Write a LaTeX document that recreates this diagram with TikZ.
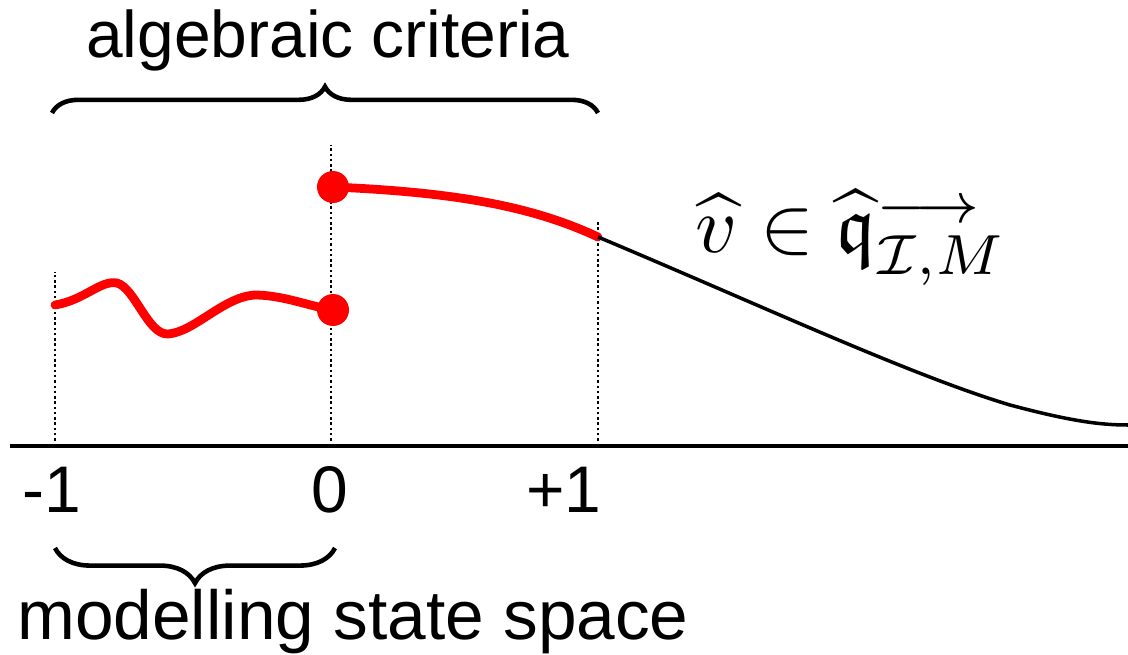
\documentclass[tikz,border=0pt]{standalone}
\usepackage{amsmath,amssymb}
\usepackage{fontspec}
\setmainfont{Liberation Sans}
\usetikzlibrary{decorations.pathreplacing,calc}

\begin{document}
\begin{tikzpicture}[x=0.02cm, y=-0.02cm,
    guide/.style={line width=1.4pt, dash pattern=on 1.4pt off 1.6pt},
    redpath/.style={red, line width=5pt, line cap=round},
    tailpath/.style={black, line width=2pt},
    dot/.style={circle, fill=red, inner sep=0pt, minimum size=0.64cm},
    lbl/.style={font=\fontsize{37.5}{42}\selectfont, inner sep=0pt},
    brace/.style={decorate, line width=2.6pt}
]
\useasboundingbox (0,0) rectangle (1128,655);

% axis and guides
\coordinate (ax0) at (10,446);
\coordinate (ax1) at (1128,446);
\draw[line width=1.8pt] (ax0) -- (ax1);
\coordinate (gm) at (55,446);
\coordinate (gz) at (331,446);
\coordinate (gp) at (598,446);
\draw[guide] (gm) -- (55,272);
\draw[guide] (gz) -- (331,145);
\draw[guide] (gp) -- (598,222);

% tick labels
\node[lbl] (tm) at (52,490) {-1};
\node[lbl] (tz) at (330,490) {0};
\node[lbl] (tp) at (564,490) {+1};

% red pieces
\node[dot] (lo) at (333,310) {};
\node[dot] (hi) at (333,187) {};
\coordinate (start) at (55,305);
\coordinate (edge) at (598,237);
\draw[redpath] (start) .. controls (85,300) and (100,280) .. (117,283)
    .. controls (135,288) and (148,335) .. (168,334)
    .. controls (195,332) and (225,295) .. (257,295)
    .. controls (285,296) and (305,305) .. (lo.center);
\draw[redpath] (hi.center) .. controls (450,192) and (530,205) .. (edge);

% black tail
\coordinate (tail) at (1128,425);
\draw[tailpath] (edge) .. controls (760,305) and (910,375) .. (1010,405)
    .. controls (1070,421) and (1100,425) .. (tail);

\node[anchor=base west, inner sep=0pt, scale=4.6] (val) at (694,252)
    {$\widehat{v}\in\widehat{\mathfrak{q}}^{\longrightarrow}_{\mathcal{I},M}$};

% braces
\coordinate (bt0) at (52,113);
\coordinate (bt1) at (598,113);
\draw[brace, decoration={brace, amplitude=15pt}] (bt0) -- (bt1);
\node[lbl] (alg) at (328,40) {algebraic criteria};

\coordinate (bb0) at (55,548);
\coordinate (bb1) at (335,548);
\draw[brace, decoration={brace, amplitude=20pt}] (bb1) -- (bb0);
\node[lbl, font=\fontsize{39.5}{44}\selectfont] (mod) at (353,622) {modelling state space};
\end{tikzpicture}
\end{document}
